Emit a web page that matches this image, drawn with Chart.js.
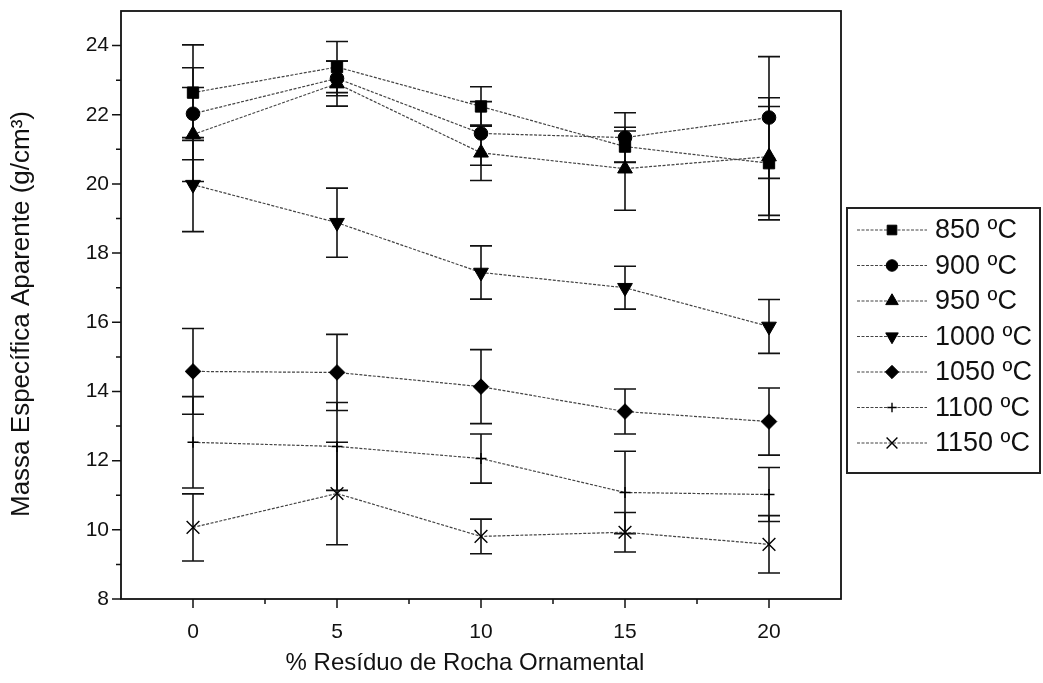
<!DOCTYPE html>
<html lang="pt">
<head>
<meta charset="utf-8">
<title>Massa Específica Aparente</title>
<script src="https://cdn.jsdelivr.net/npm/chart.js@4.4.1/dist/chart.umd.min.js"></script>
<style>
  html, body { margin: 0; padding: 0; background: #fff; }
  #grafico { display: block; }
</style>
</head>
<body>
<canvas id="grafico" width="1043" height="683"></canvas>
<script>
// % de resíduo de rocha ornamental
const residuo = [0, 5, 10, 15, 20];
const temperaturas = ['850 ºC', '900 ºC', '950 ºC', '1000 ºC', '1050 ºC', '1100 ºC', '1150 ºC'];

// médias e desvios por temperatura de queima
const massa850 = [22.64, 23.38, 22.24, 21.08, 20.60];
const erro850 = [1.38, 0.74, 0.57, 0.45, 1.64];
const massa900 = [22.03, 23.05, 21.46, 21.34, 21.92];
const erro900 = [1.33, 0.50, 0.92, 0.72, 1.76];
const massa950 = [21.43, 22.90, 20.90, 20.44, 20.79];
const erro950 = [1.36, 0.65, 0.80, 1.20, 1.70];
const massa1000 = [19.98, 18.88, 17.44, 17.00, 15.88];
const erro1000 = [1.36, 1.00, 0.77, 0.62, 0.78];
const massa1050 = [14.58, 14.55, 14.14, 13.42, 13.13];
const erro1050 = [1.24, 1.10, 1.07, 0.65, 0.97];
const massa1100 = [12.53, 12.41, 12.06, 11.08, 11.02];
const erro1100 = [1.32, 1.27, 0.71, 1.19, 0.78];
const massa1150 = [10.07, 11.05, 9.81, 9.93, 9.58];
const erro1150 = [0.97, 1.48, 0.50, 0.57, 0.83];

const ticksX = [0, 5, 10, 15, 20];
const ticksXMenores = [2.5, 7.5, 12.5, 17.5];
const ticksY = [8, 10, 12, 14, 16, 18, 20, 22, 24];
const ticksYMenores = [9, 11, 13, 15, 17, 19, 21, 23];

const tituloX = '% Resíduo de Rocha Ornamental';
const tituloY = 'Massa Específica Aparente (g/cm³)';

const medias = [massa850, massa900, massa950, massa1000, massa1050, massa1100, massa1150];
const erros = [erro850, erro900, erro950, erro1000, erro1050, erro1100, erro1150];

const marcadores = [
    { estilo: 'rect', raio: 8, rotacao: 0 },
    { estilo: 'circle', raio: 6.8, rotacao: 0 },
    { estilo: 'triangle', raio: 8.5, rotacao: 0 },
    { estilo: 'triangle', raio: 8.5, rotacao: 180 },
    { estilo: 'rectRot', raio: 7.8, rotacao: 0 },
    { estilo: 'cross', raio: 5.5, rotacao: 0 },
    { estilo: 'crossRot', raio: 9, rotacao: 0 }
];

const fonte = "'Liberation Sans', Arial, sans-serif";
const corLinha = '#444';
const tracejado = [3, 1.5];

const datasets = temperaturas.map((t, i) => ({
    label: t,
    data: residuo.map((r, j) => ({ x: r, y: medias[i][j] })),
    borderColor: corLinha,
    borderWidth: 1.2,
    borderDash: tracejado,
    fill: false,
    tension: 0,
    pointStyle: marcadores[i].estilo,
    pointRadius: marcadores[i].raio,
    pointRotation: marcadores[i].rotacao,
    pointBackgroundColor: '#000',
    pointBorderColor: '#000',
    pointBorderWidth: marcadores[i].estilo.startsWith('cross') ? 1.4 : 1
}));

// barras de erro desenhadas antes das séries
const barrasErro = {
    id: 'barrasErro',
    beforeDatasetsDraw(chart) {
        const { ctx, scales: { x, y } } = chart;
        ctx.save();
        ctx.strokeStyle = '#111';
        ctx.lineWidth = 1.6;
        chart.data.datasets.forEach((ds, i) => {
            ds.data.forEach((p, j) => {
                const px = x.getPixelForValue(p.x);
                const yTopo = y.getPixelForValue(p.y + erros[i][j]);
                const yBase = y.getPixelForValue(p.y - erros[i][j]);
                ctx.beginPath();
                ctx.moveTo(px, yTopo); ctx.lineTo(px, yBase);
                ctx.moveTo(px - 11, yTopo); ctx.lineTo(px + 11, yTopo);
                ctx.moveTo(px - 11, yBase); ctx.lineTo(px + 11, yBase);
                ctx.stroke();
            });
        });
        ctx.restore();
    }
};

// moldura, marcas dos eixos e títulos
const moldura = {
    id: 'moldura',
    afterDraw(chart) {
        const { ctx, chartArea: a, scales: { x, y } } = chart;
        ctx.save();
        ctx.strokeStyle = '#111';
        ctx.lineWidth = 1.8;
        ctx.strokeRect(a.left, a.top, a.right - a.left, a.bottom - a.top);
        ctx.lineWidth = 1.5;
        ctx.beginPath();
        ticksX.forEach(v => { const px = x.getPixelForValue(v); ctx.moveTo(px, a.bottom); ctx.lineTo(px, a.bottom + 9); });
        ticksXMenores.forEach(v => { const px = x.getPixelForValue(v); ctx.moveTo(px, a.bottom); ctx.lineTo(px, a.bottom + 5); });
        ticksY.forEach(v => { const py = y.getPixelForValue(v); ctx.moveTo(a.left, py); ctx.lineTo(a.left - 9, py); });
        ticksYMenores.forEach(v => { const py = y.getPixelForValue(v); ctx.moveTo(a.left, py); ctx.lineTo(a.left - 5, py); });
        ctx.stroke();

        ctx.fillStyle = '#111';
        ctx.textAlign = 'center';
        ctx.textBaseline = 'middle';
        ctx.font = '24px ' + fonte;
        ctx.fillText(tituloX, (a.left + a.right) / 2 - 16, a.bottom + 64);
        ctx.translate(22, (a.top + a.bottom) / 2 + 9);
        ctx.rotate(-Math.PI / 2);
        ctx.font = '26px ' + fonte;
        ctx.fillText(tituloY, 0, 0);
        ctx.restore();
    }
};

// legenda com linha tracejada e marcador
const legenda = {
    id: 'legenda',
    afterDraw(chart) {
        const { ctx, chartArea: a } = chart;
        const esq = a.right + 6, topo = 208, larg = 193, alt = 265;
        const passo = 35.5;
        ctx.save();
        ctx.strokeStyle = '#222';
        ctx.lineWidth = 2;
        ctx.strokeRect(esq, topo, larg, alt);
        chart.data.datasets.forEach((ds, i) => {
            const cy = topo + 22 + i * passo;
            ctx.strokeStyle = corLinha;
            ctx.lineWidth = 1.2;
            ctx.setLineDash(tracejado);
            ctx.beginPath();
            ctx.moveTo(esq + 10, cy); ctx.lineTo(esq + 80, cy);
            ctx.stroke();
            ctx.setLineDash([]);
            ctx.fillStyle = '#000';
            ctx.strokeStyle = '#000';
            ctx.lineWidth = ds.pointBorderWidth;
            Chart.helpers.drawPoint(ctx, {
                pointStyle: ds.pointStyle,
                rotation: ds.pointRotation,
                radius: ds.pointRadius * 0.85,
                borderWidth: ds.pointBorderWidth
            }, esq + 45, cy);
            ctx.fillStyle = '#111';
            ctx.font = '27px ' + fonte;
            ctx.textAlign = 'left';
            ctx.textBaseline = 'middle';
            ctx.fillText(ds.label, esq + 88, cy + 1);
        });
        ctx.restore();
    }
};

new Chart(document.getElementById('grafico'), {
    type: 'line',
    data: { datasets },
    options: {
        responsive: false,
        animation: false,
        layout: { padding: { left: 0, top: 11, right: 202, bottom: 0 } },
        plugins: { legend: { display: false }, tooltip: { enabled: false } },
        scales: {
            x: {
                type: 'linear',
                min: -2.5,
                max: 22.5,
                grid: { display: false, drawTicks: false },
                border: { display: false },
                afterBuildTicks: s => { s.ticks = ticksX.map(v => ({ value: v })); },
                afterFit: s => { s.height = 84; s.paddingLeft = 0; s.paddingRight = 0; },
                ticks: { color: '#111', font: { family: fonte, size: 21 }, padding: 21 },
                title: { display: false }
            },
            y: {
                min: 8,
                max: 25,
                grid: { display: false, drawTicks: false },
                border: { display: false },
                afterBuildTicks: s => { s.ticks = ticksY.map(v => ({ value: v })); },
                afterFit: s => { s.width = 121; s.paddingTop = 0; s.paddingBottom = 0; },
                ticks: { color: '#111', font: { family: fonte, size: 21 }, padding: 12 },
                title: { display: false }
            }
        }
    },
    plugins: [barrasErro, moldura, legenda]
});
</script>
</body>
</html>
